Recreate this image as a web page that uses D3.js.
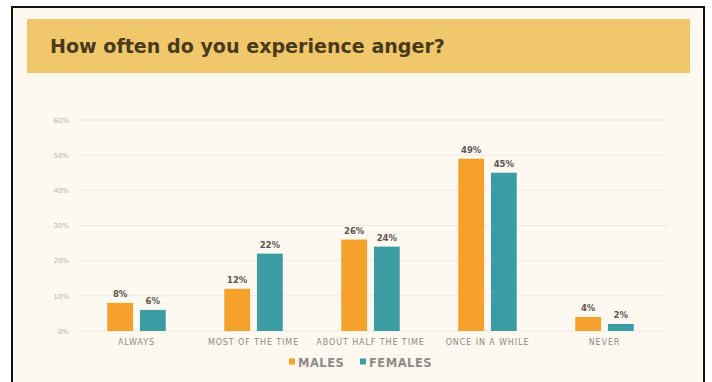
<!DOCTYPE html>
<html>
<head>
<meta charset="utf-8">
<script src="https://cdn.jsdelivr.net/npm/d3@7"></script>
<style>
  html, body { margin: 0; padding: 0; background: #ffffff; }
  svg { display: block; }
</style>
</head>
<body>
<svg id="chart" width="712" height="382"></svg>
<script>
// Survey answers to "How often do you experience anger?", in percent
const categories = ["ALWAYS", "MOST OF THE TIME", "ABOUT HALF THE TIME", "ONCE IN A WHILE", "NEVER"];
const seriesNames = ["MALES", "FEMALES"];
const males = [8, 12, 26, 49, 4];
const females = [6, 22, 24, 45, 2];
const yTicks = [0, 10, 20, 30, 40, 50, 60];

const colors = { MALES: "#f6a12b", FEMALES: "#3b9da3" };

const svg = d3.select("#chart");

// card background and frame
svg.append("rect")
  .attr("x", 12).attr("y", 7).attr("width", 692).attr("height", 380)
  .attr("fill", "#fdf9f0");
svg.append("path")
  .attr("d", "M12,390 L12,7 L704,7 L704,390")
  .attr("fill", "none").attr("stroke", "#111").attr("stroke-width", 2);

// title banner
svg.append("rect")
  .attr("x", 27).attr("y", 19).attr("width", 663).attr("height", 54)
  .attr("fill", "#f0c76b");
const title = svg.append("text")
  .attr("x", 50).attr("y", 53)
  .attr("font-family", "DejaVu Sans, Verdana, sans-serif")
  .attr("font-weight", "bold")
  .attr("font-size", 17)
  .attr("fill", "#4a3a1c")
  .text("How often do you experience anger?");
// scale the title to its intended width
const tw = title.node().getComputedTextLength();
title.attr("font-size", 17 * 395 / tw);

// scales
const x0 = d3.scaleBand().domain(categories).range([78, 663])
  .paddingInner(0.5).paddingOuter(0.25);
const x1 = d3.scaleBand().domain(seriesNames).range([0, x0.bandwidth()])
  .paddingInner(0.21);
const y = d3.scaleLinear().domain([0, 60]).range([331, 120]);

// gridlines
svg.append("g")
  .selectAll("line").data(yTicks).join("line")
  .attr("x1", 77).attr("x2", 668)
  .attr("y1", d => y(d)).attr("y2", d => y(d))
  .attr("stroke", "#efe9dc").attr("stroke-width", 1);

// y axis labels
const yAxis = d3.axisLeft(y).tickValues(yTicks).tickFormat(d => d + "%").tickSize(0).tickPadding(0);
const gy = svg.append("g").attr("transform", "translate(69,0)").call(yAxis);
gy.select(".domain").remove();
gy.selectAll("text")
  .attr("font-family", "DejaVu Sans, sans-serif")
  .attr("font-size", 7)
  .attr("fill", "#b7b2a9");

// x axis labels
const xAxis = d3.axisBottom(x0).tickSize(0).tickPadding(0);
const gx = svg.append("g").attr("transform", "translate(0,339)").call(xAxis);
gx.select(".domain").remove();
gx.selectAll("text")
  .attr("font-family", "DejaVu Sans, sans-serif")
  .attr("font-size", 8)
  .attr("letter-spacing", 0.9)
  .attr("fill", "#8e8a84");

// bars
const rows = categories.map((c, i) => ({
  category: c,
  values: [{ key: "MALES", value: males[i] }, { key: "FEMALES", value: females[i] }]
}));

const groups = svg.append("g").selectAll("g").data(rows).join("g")
  .attr("transform", d => `translate(${x0(d.category)},0)`);

groups.selectAll("rect").data(d => d.values).join("rect")
  .attr("x", d => x1(d.key))
  .attr("y", d => y(d.value))
  .attr("width", x1.bandwidth())
  .attr("height", d => y(0) - y(d.value))
  .attr("fill", d => colors[d.key]);

groups.selectAll("text.val").data(d => d.values).join("text")
  .attr("class", "val")
  .attr("x", d => x1(d.key) + x1.bandwidth() / 2)
  .attr("y", d => y(d.value) - 6)
  .attr("text-anchor", "middle")
  .attr("font-family", "DejaVu Sans, sans-serif")
  .attr("font-weight", "bold")
  .attr("font-size", 8.5)
  .attr("fill", "#5a5550")
  .text(d => d.value + "%");

// legend
const legend = svg.append("g").attr("transform", "translate(289,362)");
const legendX = [0, 71];
seriesNames.forEach((name, i) => {
  const g = legend.append("g").attr("transform", `translate(${legendX[i]},0)`);
  g.append("rect").attr("x", 0).attr("y", -3.5).attr("width", 6).attr("height", 6)
    .attr("fill", colors[name]);
  g.append("text").attr("x", 9).attr("y", 4.5)
    .attr("font-family", "DejaVu Sans, sans-serif")
    .attr("font-weight", "bold")
    .attr("font-size", 11.5)
    .attr("letter-spacing", 0.5)
    .attr("fill", "#8f8a86")
    .text(name);
});
</script>
</body>
</html>
